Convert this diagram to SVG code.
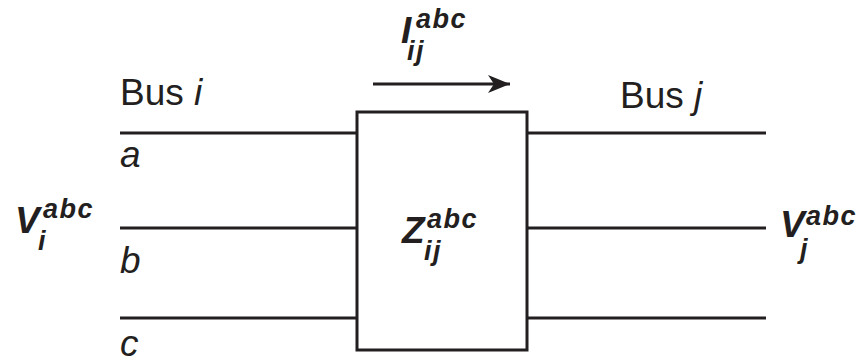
<svg xmlns="http://www.w3.org/2000/svg" width="861" height="358" viewBox="0 0 861 358">
  <style>
    .wire { stroke: #231f20; stroke-width: 3; fill: none; }
    .lbl { font-family: "Liberation Sans", Arial, sans-serif; fill: #231f20; }
    .reg { font-size: 37px; }
    .it { font-style: italic; }
    .sym { font-size: 37px; font-weight: bold; font-style: italic; }
    .idx { font-size: 27px; font-weight: bold; font-style: italic; letter-spacing: 1.5px; }
  </style>
  <defs>
    <marker id="head" markerUnits="userSpaceOnUse" markerWidth="24" markerHeight="20" refX="22" refY="10" orient="auto">
      <path d="M0,1 L22,10 L0,19 L6,10 Z" fill="#231f20"/>
    </marker>
  </defs>

  <!-- three-phase conductors on both sides of the line section -->
  <g id="connectors">
    <line class="wire" x1="120" y1="133" x2="357" y2="133"/>
    <line class="wire" x1="120" y1="228" x2="357" y2="228"/>
    <line class="wire" x1="120" y1="318" x2="357" y2="318"/>
    <line class="wire" x1="527" y1="133" x2="766" y2="133"/>
    <line class="wire" x1="527" y1="228" x2="766" y2="228"/>
    <line class="wire" x1="527" y1="318" x2="766" y2="318"/>
    <line class="wire" x1="373" y1="84" x2="510" y2="84" marker-end="url(#head)"/>
  </g>

  <!-- series impedance block -->
  <g id="impedance">
    <rect class="wire" x="357" y="112" width="170" height="238"/>
    <text class="lbl sym" x="402" y="243">Z</text>
    <text class="lbl idx" x="427" y="228">abc</text>
    <text class="lbl idx" x="424" y="260">ij</text>
  </g>

  <!-- current label above the arrow -->
  <g id="current">
    <text class="lbl sym" x="401" y="43">I</text>
    <text class="lbl idx" x="416" y="28">abc</text>
    <text class="lbl idx" x="407" y="60">ij</text>
  </g>

  <!-- sending bus -->
  <g id="bus-i">
    <text class="lbl reg" x="120" y="105">Bus <tspan class="it">i</tspan></text>
    <text class="lbl reg it" x="120" y="167">a</text>
    <text class="lbl reg it" x="120" y="273">b</text>
    <text class="lbl reg it" x="120" y="356">c</text>
    <text class="lbl sym" x="15" y="233">V</text>
    <text class="lbl idx" x="43" y="218">abc</text>
    <text class="lbl idx" x="38" y="250">i</text>
  </g>

  <!-- receiving bus -->
  <g id="bus-j">
    <text class="lbl reg" x="620" y="108">Bus <tspan class="it">j</tspan></text>
    <text class="lbl sym" x="780" y="237">V</text>
    <text class="lbl idx" x="806" y="225">abc</text>
    <text class="lbl idx" x="800" y="258">j</text>
  </g>
</svg>
